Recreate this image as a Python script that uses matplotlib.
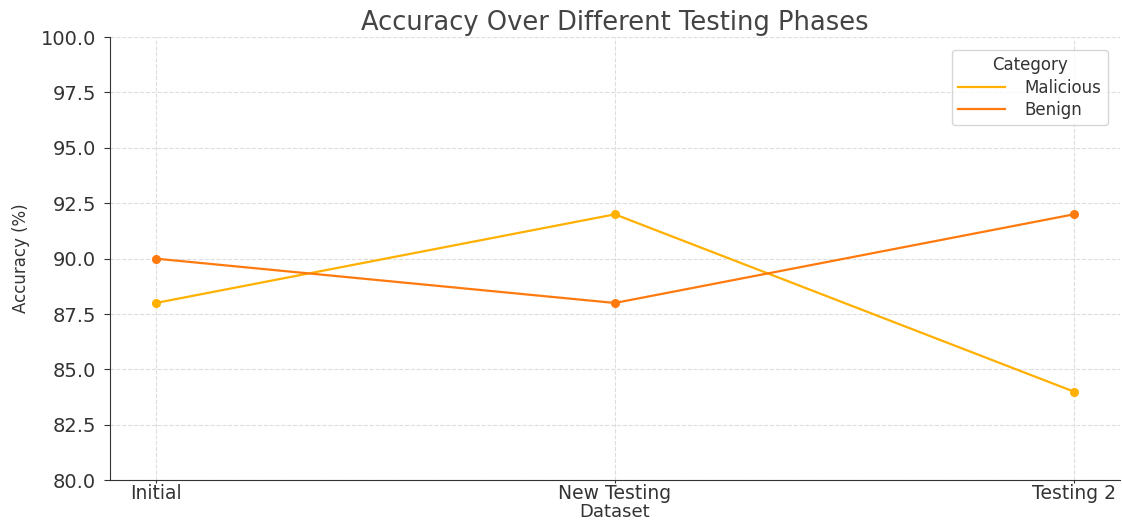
import matplotlib
matplotlib.use("Agg")
from matplotlib import pyplot as plt
from matplotlib.lines import Line2D

phases = ["Initial", "New Testing", "Testing 2"]
malicious = [88, 92, 84]
benign = [90, 88, 92]
yticks = [80 + 2.5 * i for i in range(9)]

c_mal = "#FFB000"
c_ben = "#FF7A0E"

fig = plt.figure(figsize=(11.22, 5.22), dpi=100)
ax = fig.add_axes([0.098, 0.080, 0.900, 0.849])

ax.plot(phases, malicious, color=c_mal, marker="o", markersize=5.5,
        linewidth=1.6)
ax.plot(phases, benign, color=c_ben, marker="o", markersize=5.5,
        linewidth=1.6)

ax.set_ylim(80, 100)
ax.set_yticks(yticks)
ax.set_yticklabels(["%.1f" % v for v in yticks])
ax.grid(True, linestyle="--", color="#dddddd", linewidth=0.8)
ax.set_axisbelow(True)
for s in ["top", "right"]:
    ax.spines[s].set_visible(False)
ax.spines["left"].set_color("#333333")
ax.spines["bottom"].set_color("#333333")
ax.tick_params(labelsize=14, colors="#333333")
ax.tick_params(axis="y", length=4, pad=6)
ax.tick_params(axis="x", length=2, pad=1, labelsize=13.5)

ax.set_title("Accuracy Over Different Testing Phases", fontsize=18.5,
             color="#444444", pad=5)
ax.set_xlabel("Dataset", fontsize=13, color="#333333", labelpad=0)
ax.set_ylabel("Accuracy (%)", fontsize=12, color="#333333", labelpad=8)

handles = [Line2D([], [], color=c_mal, linewidth=1.6),
           Line2D([], [], color=c_ben, linewidth=1.6)]
leg = ax.legend(handles, ["Malicious", "Benign"], title="Category",
                loc="upper right", fontsize=12, title_fontsize=12,
                frameon=True, bbox_to_anchor=(0.997, 0.99),
                handlelength=2.8, handletextpad=1.2, labelspacing=0.25,
                borderpad=0.4)
leg.get_frame().set_edgecolor("#cccccc")
for t in leg.get_texts() + [leg.get_title()]:
    t.set_color("#333333")

fig.savefig("out.png", dpi=100)
